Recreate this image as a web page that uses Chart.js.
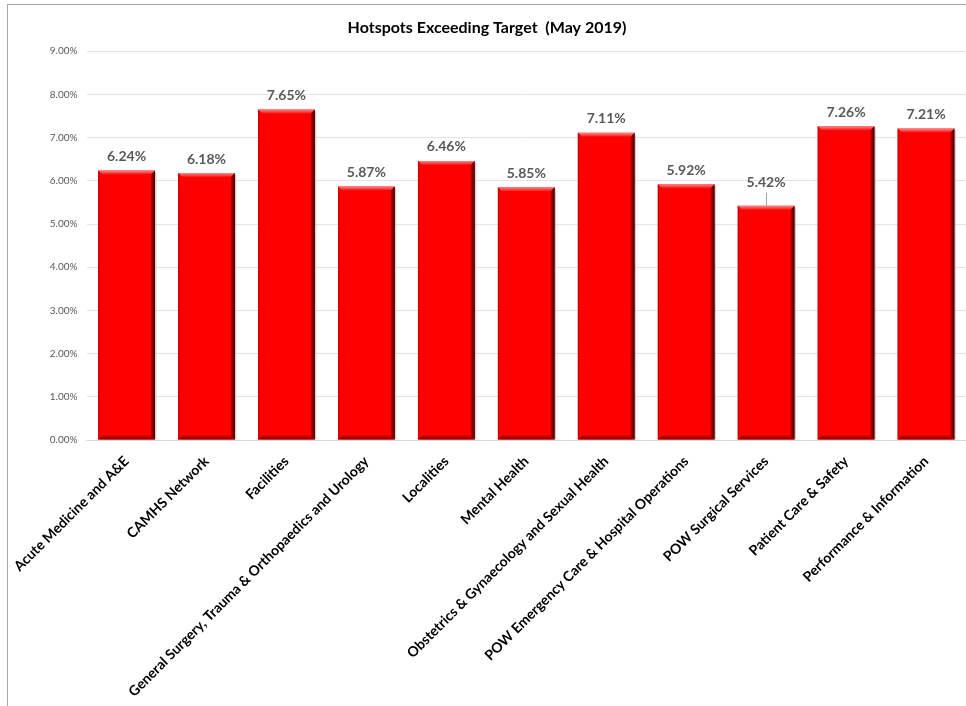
<!DOCTYPE html>
<html>
<head>
<meta charset="utf-8">
<script src="https://cdn.jsdelivr.net/npm/chart.js@4.4.1/dist/chart.umd.min.js"></script>
<style>
  html, body { margin: 0; padding: 0; background: #fff; }
  #frame {
    position: absolute; left: 7px; top: 4px;
    width: 959px; height: 702px;
    border-left: 1px solid #a6a6a6; border-top: 1px solid #a6a6a6;
  }
  #hotspots { display: block; }
</style>
</head>
<body>
<div id="frame"><canvas id="hotspots" width="958" height="701"></canvas></div>
<script>
var directorates = [
  "Acute Medicine and A&E",
  "CAMHS Network",
  "Facilities",
  "General Surgery, Trauma & Orthopaedics and Urology",
  "Localities",
  "Mental Health",
  "Obstetrics & Gynaecology and Sexual Health",
  "POW Emergency Care & Hospital Operations",
  "POW Surgical Services",
  "Patient Care & Safety",
  "Performance & Information"
];
var exceedPct = [6.24, 6.18, 7.65, 5.87, 6.46, 5.85, 7.11, 5.92, 5.42, 7.26, 7.21];
var yTicks = [0, 1, 2, 3, 4, 5, 6, 7, 8, 9];

function pct(v) { return v.toFixed(2) + "%"; }

// bevelled look for each bar: light top edge, dark right and bottom edges
var bevel = {
  id: "bevel",
  afterDatasetsDraw: function (chart) {
    var c = chart.ctx;
    chart.getDatasetMeta(0).data.forEach(function (bar) {
      var p = bar.getProps(["x", "y", "base", "width"], true);
      var l = p.x - p.width / 2, r = p.x + p.width / 2, t = p.y, b = p.base;
      var e = 4;
      c.save();
      // soft shadow to the right
      c.fillStyle = "rgba(0,0,0,0.18)";
      c.fillRect(r, t + 2, 1.5, b - t - 2);
      // top highlight
      var g = c.createLinearGradient(0, t, 0, t + e);
      g.addColorStop(0, "#ff8a8a");
      g.addColorStop(1, "#ff1010");
      c.fillStyle = g;
      c.beginPath();
      c.moveTo(l, t); c.lineTo(r, t); c.lineTo(r - e, t + e); c.lineTo(l + e, t + e);
      c.closePath(); c.fill();
      // right shade
      g = c.createLinearGradient(r - e, 0, r, 0);
      g.addColorStop(0, "#c00000");
      g.addColorStop(1, "#3a0000");
      c.fillStyle = g;
      c.beginPath();
      c.moveTo(r, t); c.lineTo(r, b); c.lineTo(r - e, b - e); c.lineTo(r - e, t + e);
      c.closePath(); c.fill();
      // bottom shade
      g = c.createLinearGradient(0, b - e, 0, b);
      g.addColorStop(0, "#d00000");
      g.addColorStop(1, "#800000");
      c.fillStyle = g;
      c.beginPath();
      c.moveTo(l, b); c.lineTo(r, b); c.lineTo(r - e, b - e); c.lineTo(l + e, b - e);
      c.closePath(); c.fill();
      // left edge
      c.fillStyle = "#d00000";
      c.beginPath();
      c.moveTo(l, t); c.lineTo(l + 1.5, t + 1.5); c.lineTo(l + 1.5, b - 1.5); c.lineTo(l, b);
      c.closePath(); c.fill();
      c.restore();
    });
  }
};

// value labels above the bars
var valueLabels = {
  id: "valueLabels",
  afterDatasetsDraw: function (chart, args, opts) {
    var c = chart.ctx;
    var ds = chart.data.datasets[0];
    c.save();
    c.font = "bold 14px Lato, 'Open Sans', sans-serif";
    c.fillStyle = "#595959";
    c.textAlign = "center";
    c.textBaseline = "middle";
    chart.getDatasetMeta(0).data.forEach(function (bar, i) {
      var lift = opts.lift[i] || opts.defaultLift;
      if (opts.lift[i]) {
        c.strokeStyle = "#a6a6a6";
        c.lineWidth = 1;
        c.beginPath();
        c.moveTo(Math.round(bar.x) + 0.5, bar.y);
        c.lineTo(Math.round(bar.x) + 0.5, bar.y - lift + 10);
        c.stroke();
      }
      c.fillText(pct(ds.data[i]), bar.x, bar.y - lift);
    });
    c.restore();
  }
};

new Chart(document.getElementById("hotspots"), {
  type: "bar",
  data: {
    labels: directorates,
    datasets: [{
      data: exceedPct,
      backgroundColor: "#ff0000",
      borderWidth: 0,
      barPercentage: 0.71,
      categoryPercentage: 1
    }]
  },
  plugins: [bevel, valueLabels],
  options: {
    responsive: false,
    animation: false,
    layout: { padding: { left: 0, right: 0, top: 0, bottom: 0 } },
    plugins: {
      legend: { display: false },
      tooltip: { enabled: false },
      title: {
        display: true,
        text: "Hotspots Exceeding Target  (May 2019)",
        color: "#000",
        font: { family: "Lato, 'Open Sans', sans-serif", size: 16, weight: "bold" },
        padding: { top: 13, bottom: 14 }
      },
      valueLabels: { defaultLift: 14, lift: { 8: 23 } }
    },
    scales: {
      x: {
        grid: { display: false },
        border: { color: "#d9d9d9" },
        ticks: {
          autoSkip: false,
          maxRotation: 45,
          minRotation: 45,
          padding: 5,
          color: "#000",
          font: { family: "Lato, 'Open Sans', sans-serif", size: 14, weight: "bold" }
        },
        afterFit: function (s) { s.height = 266; }
      },
      y: {
        min: 0,
        max: 9,
        afterBuildTicks: function (s) { s.ticks = yTicks.map(function (v) { return { value: v }; }); },
        grid: { color: "#e3e3e3", drawTicks: false },
        border: { display: false },
        ticks: {
          padding: 9,
          color: "#595959",
          font: { family: "Lato, 'Open Sans', sans-serif", size: 10 },
          callback: function (v) { return pct(v); }
        },
        afterFit: function (s) { s.width = 78.5; }
      }
    }
  }
});
</script>
</body>
</html>
